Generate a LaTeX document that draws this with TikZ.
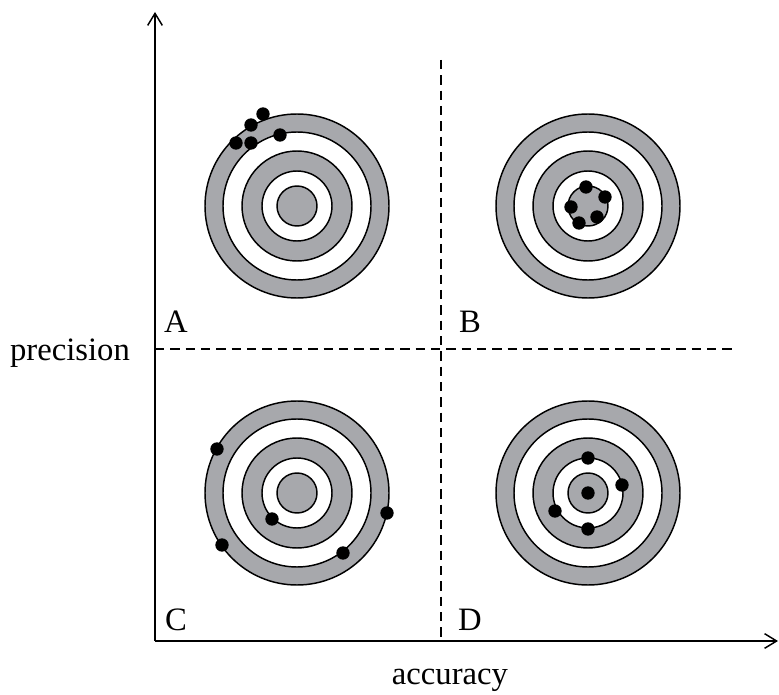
\documentclass[tikz,border=0pt]{standalone}
\usepackage{fontspec}
\setmainfont{Liberation Serif}
\usetikzlibrary{arrows.meta}
\definecolor{ringgray}{RGB}{167,168,172}

\begin{document}
\begin{tikzpicture}[x=0.75pt, y=0.75pt, line width=1.1pt, font=\fontsize{24.5}{29}\selectfont]
\useasboundingbox (0,0) rectangle (779,694);
\tikzset{hit/.style={circle, fill=black, inner sep=0pt, minimum size=10pt}}

\foreach \name/\cx/\cy in {tA/297/488, tB/588/488, tC/297/201, tD/588/201} {
  \foreach \r/\col in {92/ringgray, 74/white, 55/ringgray, 35/white, 20/ringgray}
    \draw [fill=\col] (\cx,\cy) circle [radius=\r*0.75pt];
  \coordinate (\name) at (\cx,\cy);
}

\foreach \i/\px/\py in {1/263/580, 2/251/569, 3/280/559, 4/236/551, 5/251/551,
                        6/586/507, 7/605/497, 8/571/487, 9/579/471, 10/597/477,
                        11/217/245, 12/272/175, 13/387/181, 14/343/141, 15/222/149,
                        16/588/236, 17/622/209, 18/588/201, 19/555/183, 20/588/165}
  \node [hit] (hit\i) at (\px,\py) {};

\coordinate (origin) at (155,53);
\coordinate (ytop) at (155,682);
\coordinate (xend) at (778,53);
\coordinate (vtop) at (441,634);
\coordinate (vbot) at (441,53);
\coordinate (hleft) at (155,345);
\coordinate (hright) at (737,345);

\draw [-{Straight Barb[length=9pt, width=11pt]}] (origin) -- (ytop);
\draw [-{Straight Barb[length=9pt, width=11pt]}] (origin) -- (xend);
\draw [dash pattern=on 7pt off 4.5pt] (vtop) -- (vbot);
\draw [dash pattern=on 7pt off 4.5pt] (hleft) -- (hright);

\node [anchor=base] (labA) at (176,361) {A};
\node [anchor=base] (labB) at (470,361) {B};
\node [anchor=base] (labC) at (176,64) {C};
\node [anchor=base] (labD) at (470,64) {D};
\node [anchor=base] (precision) at (70,334) {precision};
\node [anchor=base] (accuracy) at (450,10) {accuracy};
\end{tikzpicture}
\end{document}
